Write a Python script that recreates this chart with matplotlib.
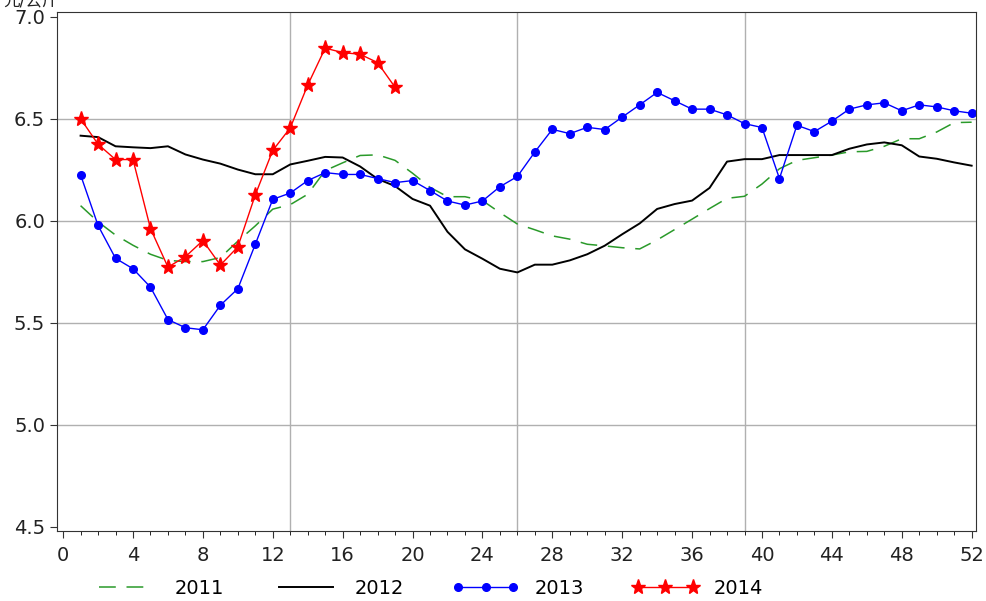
import matplotlib
matplotlib.use("Agg")
import matplotlib.pyplot as plt
from matplotlib.ticker import MultipleLocator

plt.rcParams['font.family'] = ['DejaVu Sans', 'Noto Sans CJK SC']

weeks = list(range(1, 53))

price_2011 = [6.074, 5.995, 5.93, 5.88, 5.836, 5.806, 5.80, 5.80, 5.82, 5.90,
              5.975, 6.057, 6.079, 6.13, 6.246, 6.284, 6.32, 6.323, 6.296, 6.233,
              6.164, 6.118, 6.118, 6.099, 6.04, 5.984, 5.956, 5.926, 5.91, 5.885,
              5.877, 5.868, 5.862, 5.906, 5.957, 6.008, 6.06, 6.11, 6.12, 6.18,
              6.255, 6.296, 6.309, 6.322, 6.338, 6.34, 6.365, 6.402, 6.402, 6.435,
              6.481, 6.483]

price_2012 = [6.417, 6.41, 6.365, 6.36, 6.356, 6.365, 6.325, 6.30, 6.28, 6.251,
              6.228, 6.228, 6.276, 6.294, 6.313, 6.31, 6.266, 6.205, 6.17, 6.107,
              6.074, 5.946, 5.86, 5.814, 5.765, 5.747, 5.785, 5.785, 5.806, 5.836,
              5.878, 5.934, 5.987, 6.058, 6.082, 6.099, 6.161, 6.29, 6.302, 6.302,
              6.322, 6.322, 6.322, 6.322, 6.353, 6.374, 6.384, 6.37, 6.315, 6.304,
              6.286, 6.27]

price_2013 = [6.225, 5.977, 5.816, 5.765, 5.675, 5.516, 5.476, 5.466, 5.586, 5.667,
              5.885, 6.105, 6.136, 6.197, 6.236, 6.227, 6.227, 6.207, 6.187, 6.197,
              6.148, 6.097, 6.077, 6.097, 6.167, 6.217, 6.337, 6.448, 6.427, 6.458,
              6.447, 6.508, 6.568, 6.629, 6.588, 6.547, 6.547, 6.519, 6.476, 6.457,
              6.207, 6.468, 6.437, 6.488, 6.547, 6.568, 6.578, 6.539, 6.568, 6.558,
              6.539, 6.527]

weeks_2014 = list(range(1, 20))
price_2014 = [6.50, 6.375, 6.30, 6.30, 5.962, 5.773, 5.824, 5.903, 5.783, 5.872,
              6.127, 6.345, 6.455, 6.665, 6.846, 6.824, 6.816, 6.775, 6.654]

fig = plt.figure(figsize=(9.86, 6.01), dpi=100)
ax = fig.add_axes([57 / 986, 1 - 531 / 601, 919 / 986, 519 / 601])

ax.plot(weeks, price_2011, color='#2a9a2a', lw=1.1, dashes=(11, 7), label='2011')
ax.plot(weeks, price_2012, color='black', lw=1.4, label='2012')
ax.plot(weeks, price_2013, color='#0000ff', lw=1.0, marker='o', ms=5.5, label='2013')
ax.plot(weeks_2014, price_2014, color='#ff0000', lw=1.0, marker='*', ms=11, label='2014')

ax.set_xlim(-0.35, 52.25)
ax.set_ylim(4.48, 7.023)
ax.xaxis.set_major_locator(MultipleLocator(4))
ax.xaxis.set_minor_locator(MultipleLocator(1))
ax.yaxis.set_major_locator(MultipleLocator(0.5))
ax.yaxis.set_major_formatter(plt.FormatStrFormatter('%.1f'))
ax.tick_params(axis='both', direction='out', colors='#333333', labelcolor='#222222')
ax.tick_params(axis='x', which='major', length=5, labelsize=14, pad=6)
ax.tick_params(axis='x', which='minor', length=3)
ax.tick_params(axis='y', length=5, labelsize=14)

for yv in [5.0, 5.5, 6.0, 6.5]:
    ax.axhline(yv, color='#b0b0b0', lw=1, zorder=0)
for xv in [13, 26, 39]:
    ax.axvline(xv, color='#b0b0b0', lw=1, zorder=0)

for sp in ax.spines.values():
    sp.set_color('#333333')

# axis unit, mostly cut off at the top edge as in the original
fig.text(0.003, 0.999, '元/公斤', fontsize=12, va='center', ha='left', color='#222222')

leg = ax.legend(loc='center', bbox_to_anchor=(0.404, -0.11), ncol=4, frameon=False,
                fontsize=14, numpoints=3, handlelength=3.4, columnspacing=2.5,
                handletextpad=0.8)

fig.savefig('out.png', dpi=100)
